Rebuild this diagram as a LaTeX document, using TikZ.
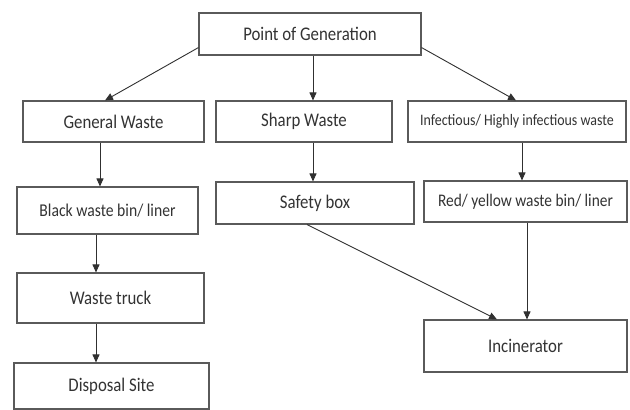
\documentclass[tikz,border=0pt]{standalone}
\usepackage{fontspec}
\setmainfont{Carlito}[FakeStretch=0.87]
\usetikzlibrary{arrows.meta}
\definecolor{txt}{HTML}{333333}
\definecolor{boxline}{HTML}{5A5A5A}
\definecolor{arr}{HTML}{303030}
\tikzset{
  wbox/.style={draw=boxline, line width=1.1pt, fill=white, inner sep=0pt,
    text=txt, font=\fontsize{19.3}{22}\selectfont, anchor=center},
  conn/.style={draw=arr, line width=0.9pt, -{Triangle[length=8pt,width=7pt]}},
}
\begin{document}
\begin{tikzpicture}[x=1pt,y=-1pt]
\useasboundingbox (0,0) rectangle (630,410);
\node[wbox, minimum width=222pt, minimum height=42pt] (pog) at (310,34) {Point of Generation};
\node[wbox, minimum width=181pt, minimum height=41pt] (gen) at (113.5,121.5) {General Waste};
\node[wbox, minimum width=176pt, minimum height=41pt] (sharp) at (304,121.5) {Sharp Waste};
\node[wbox, minimum width=218pt, minimum height=41pt, font=\fontsize{16}{19}\selectfont] (inf) at (517,121.5) {Infectious/ Highly infectious waste};
\node[wbox, minimum width=181pt, minimum height=47pt, font=\fontsize{18}{21}\selectfont] (black) at (107.5,210.5) {Black waste bin/ liner};
\node[wbox, minimum width=198pt, minimum height=42pt] (safety) at (315,203) {Safety box};
\node[wbox, minimum width=203pt, minimum height=41pt, font=\fontsize{17.7}{21}\selectfont] (red) at (525.5,201.5) {Red/ yellow waste bin/ liner};
\node[wbox, minimum width=187pt, minimum height=50pt] (truck) at (110.5,298) {Waste truck};
\node[wbox, minimum width=195pt, minimum height=46pt] (disp) at (111.5,386) {Disposal Site};
\node[wbox, minimum width=203pt, minimum height=52pt] (inc) at (525.5,346) {Incinerator};

\draw[conn] ([yshift=8pt]pog.south west) -- ([xshift=-8.5pt]gen.north);
\draw[conn] ([xshift=3pt]pog.south) -- ([xshift=9pt]sharp.north);
\draw[conn] ([yshift=8pt]pog.south east) -- ([xshift=-1pt]inf.north);
\draw[conn] ([xshift=-13.5pt]gen.south) -- ([xshift=-7.5pt]black.north);
\draw[conn] ([xshift=9pt]sharp.south) -- ([xshift=-2pt]safety.north);
\draw[conn] ([xshift=5pt]inf.south) -- ([xshift=-3.5pt]red.north);
\draw[conn] ([xshift=-11.5pt]black.south) -- ([xshift=-14.5pt]truck.north);
\draw[conn] ([xshift=-14.5pt]truck.south) -- ([xshift=-15.5pt]disp.north);
\draw[conn] ([xshift=-8pt]safety.south) -- ([xshift=-28.5pt]inc.north);
\draw[conn] ([xshift=1.5pt]red.south) -- ([xshift=1.5pt]inc.north);
\end{tikzpicture}
\end{document}
